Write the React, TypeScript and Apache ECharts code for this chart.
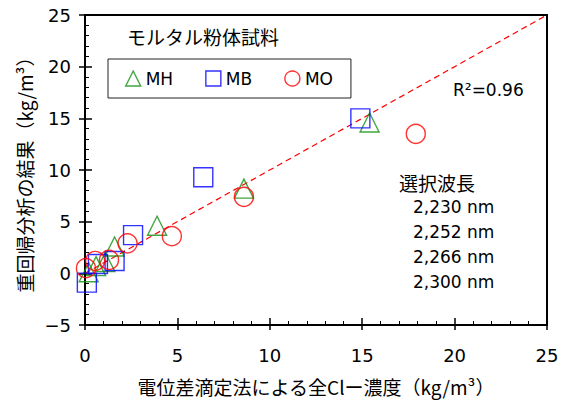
import React, { useEffect, useRef } from "react";
import * as echarts from "echarts";

// Data: [x = potentiometric titration, y = regression result] (kg/m3)
const mhPoints: number[][] = [
  [0.2, 0.1], [0.6, 0.7], [1.1, 1.1], [1.6, 2.6], [3.9, 4.6], [8.6, 8.2], [15.4, 14.6],
];
const mbPoints: number[][] = [
  [0.1, -0.9], [0.7, 0.9], [1.6, 1.2], [2.6, 3.7], [6.4, 9.3], [14.9, 15.0],
];
const moPoints: number[][] = [
  [0.05, 0.5], [0.55, 1.2], [1.3, 1.3], [2.3, 2.9], [4.7, 3.6], [8.6, 7.4], [17.9, 13.5],
];
const fitLine: number[][] = [[0, 0], [25, 25]];
const seriesNames = ["MH", "MB", "MO"];
const wavelengths = ["2,230 nm", "2,252 nm", "2,266 nm", "2,300 nm"];
const legendTitle = "モルタル粉体試料";
const wavelengthTitle = "選択波長";
const r2Text = "R²=0.96";
const xName = "電位差滴定法による全Clー濃度（kg/m³）";
const yName = "重回帰分析の結果（kg/m³）";

const NUM_FONT = "'DejaVu Sans', 'Noto Sans CJK JP', sans-serif";
const CJK_FONT = "'Noto Sans CJK JP', 'DejaVu Sans', sans-serif";
const GREEN = "#109010";
const BLUE = "#0000ff";
const RED = "#ff0000";

export default function App() {
  const ref = useRef<HTMLDivElement>(null);
  useEffect(() => {
    document.body.style.margin = "0";
    if (!ref.current) return;
    const chart = echarts.init(ref.current, undefined, { renderer: "svg" });
    const fmt = (v: number) => String(v).replace("-", "\u2212");
    const markerStyle = (c: string) => ({ color: "transparent", borderColor: c, borderWidth: 1.4 });
    const baseX = {
      type: "value",
      min: 0,
      max: 25,
      interval: 5,
      splitLine: { show: false },
    };
    const baseY = {
      type: "value",
      min: -5,
      max: 25,
      interval: 5,
      splitLine: { show: false },
    };
    chart.setOption({
      animation: false,
      backgroundColor: "#fff",
      grid: {
        left: 85, right: 23, top: 15, bottom: 79,
        show: true, borderColor: "#000", borderWidth: 2, backgroundColor: "transparent",
      },
      title: {
        text: legendTitle,
        left: 127, top: 27, padding: 0,
        textStyle: { fontSize: 19, fontWeight: "normal", color: "#000", fontFamily: CJK_FONT },
      },
      legend: {
        left: 108, top: 59,
        orient: "horizontal",
        padding: [11, 18, 11, 17],
        itemGap: 32,
        itemWidth: 15, itemHeight: 15,
        borderColor: "#222", borderWidth: 1,
        backgroundColor: "#fff",
        textStyle: { fontSize: 17, color: "#000", fontFamily: NUM_FONT, padding: [0, 0, 0, 0] },
        data: [
          { name: seriesNames[0], icon: "triangle", itemStyle: markerStyle(GREEN) },
          { name: seriesNames[1], icon: "rect", itemStyle: markerStyle(BLUE) },
          { name: seriesNames[2], icon: "circle", itemStyle: markerStyle(RED) },
        ],
      },
      xAxis: [
        {
          ...baseX,
          position: "bottom",
          name: xName,
          nameLocation: "middle",
          nameGap: 52,
          nameTextStyle: { fontSize: 19, color: "#000", fontFamily: CJK_FONT },
          axisLine: { show: true, onZero: false, lineStyle: { color: "#000", width: 2 } },
          axisTick: { show: true, inside: true, length: 7, lineStyle: { color: "#000", width: 1.5 } },
          minorTick: { show: true, splitNumber: 5, length: 4, lineStyle: { color: "#000", width: 1 } },
          axisLabel: { fontSize: 18, color: "#000", fontFamily: NUM_FONT, margin: 21 },
        },
        {
          ...baseX,
          position: "bottom",
          axisLine: { show: false, onZero: false },
          axisTick: { show: true, inside: false, length: 5, lineStyle: { color: "#000", width: 1.5 } },
          axisLabel: { show: false },
        },
      ],
      yAxis: [
        {
          ...baseY,
          position: "left",
          name: yName,
          nameLocation: "middle",
          nameGap: 50,
          nameTextStyle: { fontSize: 19, color: "#000", fontFamily: CJK_FONT },
          axisLine: { show: true, onZero: false, lineStyle: { color: "#000", width: 2 } },
          axisTick: { show: true, inside: true, length: 7, lineStyle: { color: "#000", width: 1.5 } },
          minorTick: { show: true, splitNumber: 5, length: 4, lineStyle: { color: "#000", width: 1 } },
          axisLabel: { fontSize: 18, color: "#000", fontFamily: NUM_FONT, margin: 14, formatter: fmt },
        },
        {
          ...baseY,
          position: "left",
          axisLine: { show: false, onZero: false },
          axisTick: { show: true, inside: false, length: 6, lineStyle: { color: "#000", width: 1.5 } },
          axisLabel: { show: false },
        },
      ],
      series: [
        {
          type: "line",
          data: fitLine,
          symbol: "none",
          silent: true,
          lineStyle: { color: RED, width: 1.2, type: [6, 4] },
          z: 1,
        },
        {
          name: seriesNames[0], type: "scatter", symbol: "triangle", symbolSize: 19,
          data: mhPoints, itemStyle: markerStyle(GREEN), z: 3,
        },
        {
          name: seriesNames[1], type: "scatter", symbol: "rect", symbolSize: 19,
          data: mbPoints, itemStyle: markerStyle(BLUE), z: 3,
        },
        {
          name: seriesNames[2], type: "scatter", symbol: "circle", symbolSize: 19,
          data: moPoints, itemStyle: markerStyle(RED), z: 3,
        },
      ],
      graphic: [
        {
          type: "text", x: 453, y: 90, z: 10,
          style: { text: r2Text, fontSize: 17, fontFamily: NUM_FONT, fill: "#000", verticalAlign: "middle" },
        },
        {
          type: "text", x: 399, y: 182, z: 10,
          style: { text: wavelengthTitle, fontSize: 19, fontFamily: CJK_FONT, fill: "#000", verticalAlign: "middle" },
        },
        ...wavelengths.map((w, i) => ({
          type: "text", x: 413, y: 207 + i * 25, z: 10,
          style: { text: w, fontSize: 17, fontFamily: NUM_FONT, fill: "#000", verticalAlign: "middle" },
        })),
      ],
    });
    return () => chart.dispose();
  }, []);
  return <div ref={ref} style={{ width: 570, height: 404 }} />;
}
